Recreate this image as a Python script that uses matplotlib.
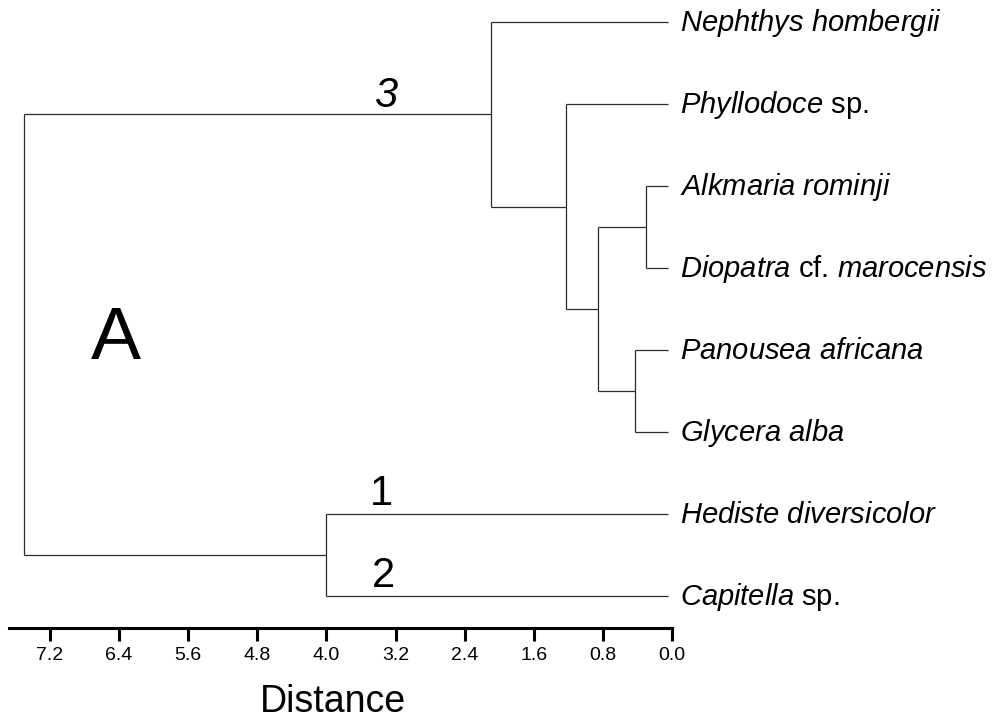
import matplotlib.pyplot as plt

plt.rcParams['font.family'] = ['Liberation Sans', 'DejaVu Sans']
plt.rcParams['mathtext.fontset'] = 'custom'
plt.rcParams['mathtext.rm'] = 'Liberation Sans'
plt.rcParams['mathtext.it'] = 'Liberation Sans:italic'

# %% Data
# Leaves, from top to bottom
leaves = [
    r"$\mathit{Nephthys}$ $\mathit{hombergii}$",
    r"$\mathit{Phyllodoce}$ sp.",
    r"$\mathit{Alkmaria}$ $\mathit{rominji}$",
    r"$\mathit{Diopatra}$ cf. $\mathit{marocensis}$",
    r"$\mathit{Panousea}$ $\mathit{africana}$",
    r"$\mathit{Glycera}$ $\mathit{alba}$",
    r"$\mathit{Hediste}$ $\mathit{diversicolor}$",
    r"$\mathit{Capitella}$ sp.",
]
leaf_end = 0.05

# Merges: (child a, child b, distance). Ints are leaves, "n#" are earlier merges
merges = [
    (2, 3, 0.30),          # n0
    (4, 5, 0.43),          # n1
    ("n0", "n1", 0.86),    # n2
    (1, "n2", 1.23),       # n3
    (0, "n3", 2.09),       # n4
    (6, 7, 4.0),           # n5
    ("n4", "n5", 7.5),     # n6 (root)
]

tick_values = [7.2, 6.4, 5.6, 4.8, 4.0, 3.2, 2.4, 1.6, 0.8, 0.0]
cluster_labels = ["3", "1", "2"]
panel_label = "A"
x_label = "Distance"

# %% Plot
fig = plt.figure(figsize=(9.95, 7.22), dpi=100)
W, H = 995, 722
ax = fig.add_axes([9 / W, 94 / H, (672 - 9) / W, (722 - 94) / H])

line_kw = dict(color='#2b2b2b', lw=0.9, solid_capstyle='butt')

node_pos = {}


def get_pos(child):
    if isinstance(child, int):
        return leaf_end, child
    return node_pos[child]


for k, (a, b, dist) in enumerate(merges):
    xa, ya = get_pos(a)
    xb, yb = get_pos(b)
    ax.plot([dist, dist], [ya, yb], **line_kw)
    ax.plot([xa, dist], [ya, ya], **line_kw)
    ax.plot([xb, dist], [yb, yb], **line_kw)
    node_pos[f"n{k}"] = (dist, (ya + yb) / 2)

for i, name in enumerate(leaves):
    ax.text(-0.09, i + 0.11, name, fontsize=21, ha='left', va='baseline')

# cluster numbers above branches
ax.text(3.32, 1.04, cluster_labels[0], fontsize=30, ha='center', va='baseline',
        style='italic')
ax.text(3.36, 5.89, cluster_labels[1], fontsize=30, ha='center', va='baseline')
ax.text(3.34, 6.89, cluster_labels[2], fontsize=30, ha='center', va='baseline')

ax.text(6.44, 4.11, panel_label, fontsize=54, ha='center', va='baseline')

ax.set_xlim(7.2 + 41 / 86.4, 0)
ax.set_ylim((628 - 22) / 82, -22 / 82)

ax.set_xticks(tick_values)
ax.set_xticklabels([f"{v:.1f}" for v in tick_values])
ax.set_yticks([])
for side in ['left', 'top', 'right']:
    ax.spines[side].set_visible(False)
ax.spines['bottom'].set_linewidth(2.2)
ax.tick_params(axis='x', direction='out', length=9, width=2.2, labelsize=14, pad=5)
ax.patch.set_alpha(0)

fig.text(333 / W, 1 - 712 / H, x_label, fontsize=27, ha='center', va='baseline')

fig.savefig('out.png', dpi=100)
